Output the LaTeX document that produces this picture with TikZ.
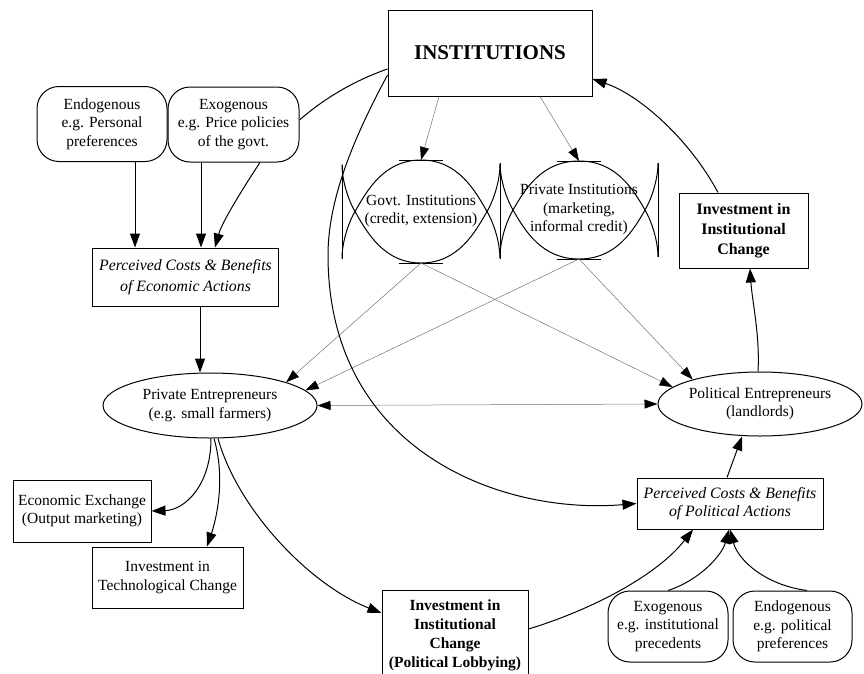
\documentclass[tikz,border=0pt]{standalone}
\usepackage{fontspec}
\setmainfont{Liberation Serif}
\usetikzlibrary{arrows.meta,shapes.geometric}
\begin{document}
\begin{tikzpicture}[x=1pt,y=-1pt,
  txt/.style={font=\fontsize{15.5}{18.5}\selectfont, align=center, inner sep=0pt},
  sqbox/.style={txt, draw, line width=1pt, rectangle},
  rbox/.style={txt, draw, line width=1pt, rounded corners=22pt},
  ell/.style={txt, draw, line width=1pt, ellipse},
  arr/.style={line width=1pt, -{Triangle[length=14pt,width=10pt]}},
  thinarr/.style={line width=0.5pt, draw=black!55, -{Triangle[length=13pt,width=9pt,color=black]}},
  dblarr/.style={line width=0.5pt, draw=black!55, {Triangle[length=13pt,width=9pt,color=black]}-{Triangle[length=13pt,width=9pt,color=black]}},
  lensline/.style={line width=1pt},
  plainline/.style={line width=1pt}
]
\useasboundingbox (0,0) rectangle (864,673);

% boxes
\node[sqbox, minimum width=204pt, minimum height=86pt, font=\fontsize{21}{24}\selectfont\bfseries] (inst) at (490,53) {INSTITUTIONS};
\node[rbox, minimum width=130pt, minimum height=75pt] (endo) at (102,124) {Endogenous\\e.g. Personal\\preferences};
\node[rbox, minimum width=131pt, minimum height=75pt] (exo) at (233.5,124.5) {Exogenous\\e.g. Price policies\\of the govt.};
\node[sqbox, minimum width=186pt, minimum height=58pt, font=\fontsize{15.8}{21}\selectfont\itshape] (pce) at (185.5,277) {Perceived Costs \& Benefits\\of Economic Actions};
\node[sqbox, minimum width=129pt, minimum height=75pt, font=\fontsize{16}{20}\selectfont\bfseries] (invr) at (743.5,230.5) {Investment in\\Institutional\\Change};
\node[ell, minimum width=214pt, minimum height=65pt] (pent) at (210,405.5) {Private Entrepreneurs\\(e.g. small farmers)};
\node[ell, minimum width=204pt, minimum height=64pt] (polent) at (760,404) {Political Entrepreneurs\\(landlords)};
\node[sqbox, minimum width=138pt, minimum height=62pt] (econex) at (82,511) {Economic Exchange\\(Output marketing)};
\node[sqbox, minimum width=151pt, minimum height=61pt] (tech) at (167.5,577.5) {Investment in\\Technological Change};
\node[sqbox, minimum width=146pt, minimum height=90pt, font=\fontsize{15.5}{19}\selectfont\bfseries] (lobby) at (455,635) {Investment in\\Institutional\\Change\\(Political Lobbying)};
\node[sqbox, minimum width=186pt, minimum height=51pt, font=\fontsize{15.8}{18.5}\selectfont\itshape] (ppa) at (730,503.5) {Perceived Costs \& Benefits\\of Political Actions};
\node[rbox, minimum width=120pt, minimum height=71pt] (exor) at (668,626.5) {Exogenous\\e.g. institutional\\precedents};
\node[rbox, minimum width=119pt, minimum height=71pt] (endor) at (792.5,626.5) {Endogenous\\e.g. political\\preferences};

% lens shapes
\foreach \cx/\cy/\h in {421/211.5/51.5, 579/210/49}{
  \draw[lensline] ({\cx-79},{\cy+47}) .. controls ({\cx-79},{\cy+30}) and ({\cx-72},{\cy+10}) .. ({\cx-66},{\cy})
     .. controls ({\cx-54},{\cy-21}) and ({\cx-37},{\cy-\h}) .. ({\cx},{\cy-\h})
     .. controls ({\cx+37},{\cy-\h}) and ({\cx+54},{\cy-21}) .. ({\cx+66},{\cy})
     .. controls ({\cx+72},{\cy+10}) and ({\cx+79},{\cy+30}) .. ({\cx+79},{\cy+47});
  \draw[lensline] ({\cx-79},{\cy-47}) .. controls ({\cx-79},{\cy-30}) and ({\cx-72},{\cy-10}) .. ({\cx-66},{\cy})
     .. controls ({\cx-54},{\cy+21}) and ({\cx-37},{\cy+\h}) .. ({\cx},{\cy+\h})
     .. controls ({\cx+37},{\cy+\h}) and ({\cx+54},{\cy+21}) .. ({\cx+66},{\cy})
     .. controls ({\cx+72},{\cy-10}) and ({\cx+79},{\cy-30}) .. ({\cx+79},{\cy-47});
  \draw[lensline] ({\cx-79},{\cy-47}) -- ({\cx-79},{\cy+47}) ({\cx+79},{\cy-47}) -- ({\cx+79},{\cy+47});
  \draw[lensline] ({\cx-22},{\cy-\h}) -- ({\cx+22},{\cy-\h}) ({\cx-22},{\cy+\h}) -- ({\cx+22},{\cy+\h});
}
\node[txt] (govt) at (421,211) {Govt. Institutions\\(credit, extension)};
\node[txt] (priv) at (579,210) {Private Institutions\\(marketing,\\informal credit)};
\coordinate (govtop) at (421,160);
\coordinate (govbot) at (421,263);
\coordinate (privtop) at (579,161);
\coordinate (privbot) at (579,259);

% thin connectors
\draw[thinarr] ([xshift=-51pt]inst.south) -- (govtop);
\draw[thinarr] ([xshift=50pt]inst.south) -- (privtop);
\draw[thinarr] (govbot) -- (pent.17);
\draw[thinarr] (govbot) -- (polent.169);
\draw[thinarr] (privbot) -- (pent.9);
\draw[thinarr] (privbot) -- (polent.160);
\draw[dblarr] (pent.east) -- (polent.west);

% thick connectors
\draw[plainline] ([yshift=-16pt]inst.west) .. controls (350,82) and (320,102) .. ([yshift=4.5pt]exo.east);
\draw[arr] ([yshift=-22pt]inst.west) .. controls (358,130) and (328,195) .. (328,255) .. controls (328,450) and (500,515) .. (ppa.west);
\draw[arr] ([xshift=33pt]endo.south) -- ([xshift=-50.5pt]pce.north);
\draw[arr] ([xshift=-32.5pt]exo.south) -- ([xshift=15.5pt]pce.north);
\draw[arr] ([xshift=26.5pt]exo.south) .. controls (245,185) and (222,222) .. ([xshift=29.5pt]pce.north);
\draw[arr] ([xshift=14.5pt]pce.south) -- ([xshift=-10pt]pent.north);
\draw[arr] ([xshift=1pt]pent.south) .. controls (211,485) and (185,510) .. (econex.east);
\draw[arr] ([xshift=4pt]pent.south) .. controls (226,480) and (216,520) .. ([xshift=39.5pt]tech.north);
\draw[arr] ([xshift=8pt]pent.south) .. controls (238,510) and (310,585) .. ([yshift=22pt]lobby.west);
\draw[arr] ([yshift=6pt]lobby.east) .. controls (585,612) and (655,578) .. ([xshift=-37pt]ppa.south);
\draw[arr] (exor.north) .. controls (700,580) and (722,555) .. ([xshift=-1pt]ppa.south);
\draw[arr] ([xshift=14.5pt]endor.north) .. controls (765,585) and (738,560) .. (ppa.south);
\draw[arr] ([xshift=-3pt]ppa.north) -- ([xshift=-18pt]polent.south);
\draw[arr] ([xshift=-2pt]polent.north) .. controls (760,335) and (752,300) .. ([xshift=6.5pt]invr.south);
\draw[arr] ([xshift=-25.5pt]invr.north) .. controls (690,140) and (640,95) .. ([yshift=-26pt]inst.east);
\end{tikzpicture}
\end{document}
